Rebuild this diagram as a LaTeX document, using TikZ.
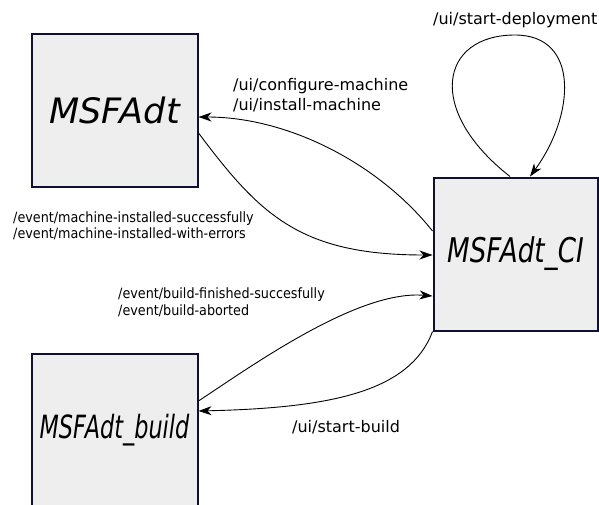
\documentclass[tikz,border=0pt]{standalone}
\usepackage{fontspec}
\setmainfont{DejaVu Sans}
\newfontfamily\condfont{DejaVu Sans Condensed}
\usetikzlibrary{arrows.meta}
\definecolor{boxline}{HTML}{101035}
\definecolor{boxfill}{HTML}{EEEEEE}
\tikzset{
  component/.style={draw=boxline, fill=boxfill, line width=2pt, rectangle,
    inner sep=0pt, minimum width=166pt, minimum height=153pt},
  msg/.style={line width=0.9pt, -{Stealth[length=13pt, width=9pt, inset=4pt]}},
  biglabel/.style={anchor=base west, inner sep=0pt, font=\fontsize{16}{19}\selectfont},
  smalllabel/.style={anchor=base west, inner sep=0pt, font=\condfont\fontsize{14.2}{17}\selectfont},
}
\begin{document}
\begin{tikzpicture}[x=1pt, y=-1pt]
  \useasboundingbox (0,0) rectangle (599,504);
  \begin{scope}
    \clip (0,0) rectangle (599,504);
    % the three components
    \node[component] (ms) at (114.5,110)
      {\fontsize{35}{40}\selectfont\itshape MSFAdt};
    \node[component, minimum width=164pt] (ci) at (515.5,254)
      {\fontsize{34}{40}\selectfont\itshape\scalebox{0.77}[1]{MSFAdt\_CI}};
    \node[component] (bld) at (114.5,430)
      {\fontsize{32}{40}\selectfont\itshape\scalebox{0.70}[1]{MSFAdt\_build}};

    % messages between MSFAdt and MSFAdt_CI
    \draw[msg] ([yshift=23pt]ci.west) .. controls (380,165) and (290,117) .. ([yshift=-7pt]ms.east);
    \draw[msg] ([yshift=-23pt]ms.east) .. controls (260,215) and (300,255) .. ([yshift=-1pt]ci.west);

    % messages between MSFAdt_build and MSFAdt_CI
    \draw[msg] ([yshift=29pt]bld.east) .. controls (260,360) and (360,290) .. ([yshift=-42pt]ci.west);
    \draw[msg] (ci.south west) .. controls (410,392) and (330,408) .. ([yshift=19pt]bld.east);

    % self loop on MSFAdt_CI
    \coordinate (looptop) at (515,35);
    \draw[msg] ([xshift=-5.5pt]ci.north) .. controls (425,110) and (440,35) .. (looptop)
      .. controls (580,35) and (575,115) .. ([xshift=14.5pt]ci.north);

    % message names
    \node[biglabel] (ldeploy) at (433,24) {/ui/start-deployment};
    \node[biglabel] (lconf) at (233,90) {/ui/configure-machine};
    \node[biglabel] (linst) at (233,110) {/ui/install-machine};
    \node[smalllabel] (lmok) at (13,222) {/event/machine-installed-successfully};
    \node[smalllabel] (lmerr) at (13,238) {/event/machine-installed-with-errors};
    \node[smalllabel] (lbok) at (118,298) {/event/build-finished-succesfully};
    \node[smalllabel] (lbab) at (118,315) {/event/build-aborted};
    \node[biglabel] (lbuild) at (292,432) {/ui/start-build};
  \end{scope}
\end{tikzpicture}
\end{document}
